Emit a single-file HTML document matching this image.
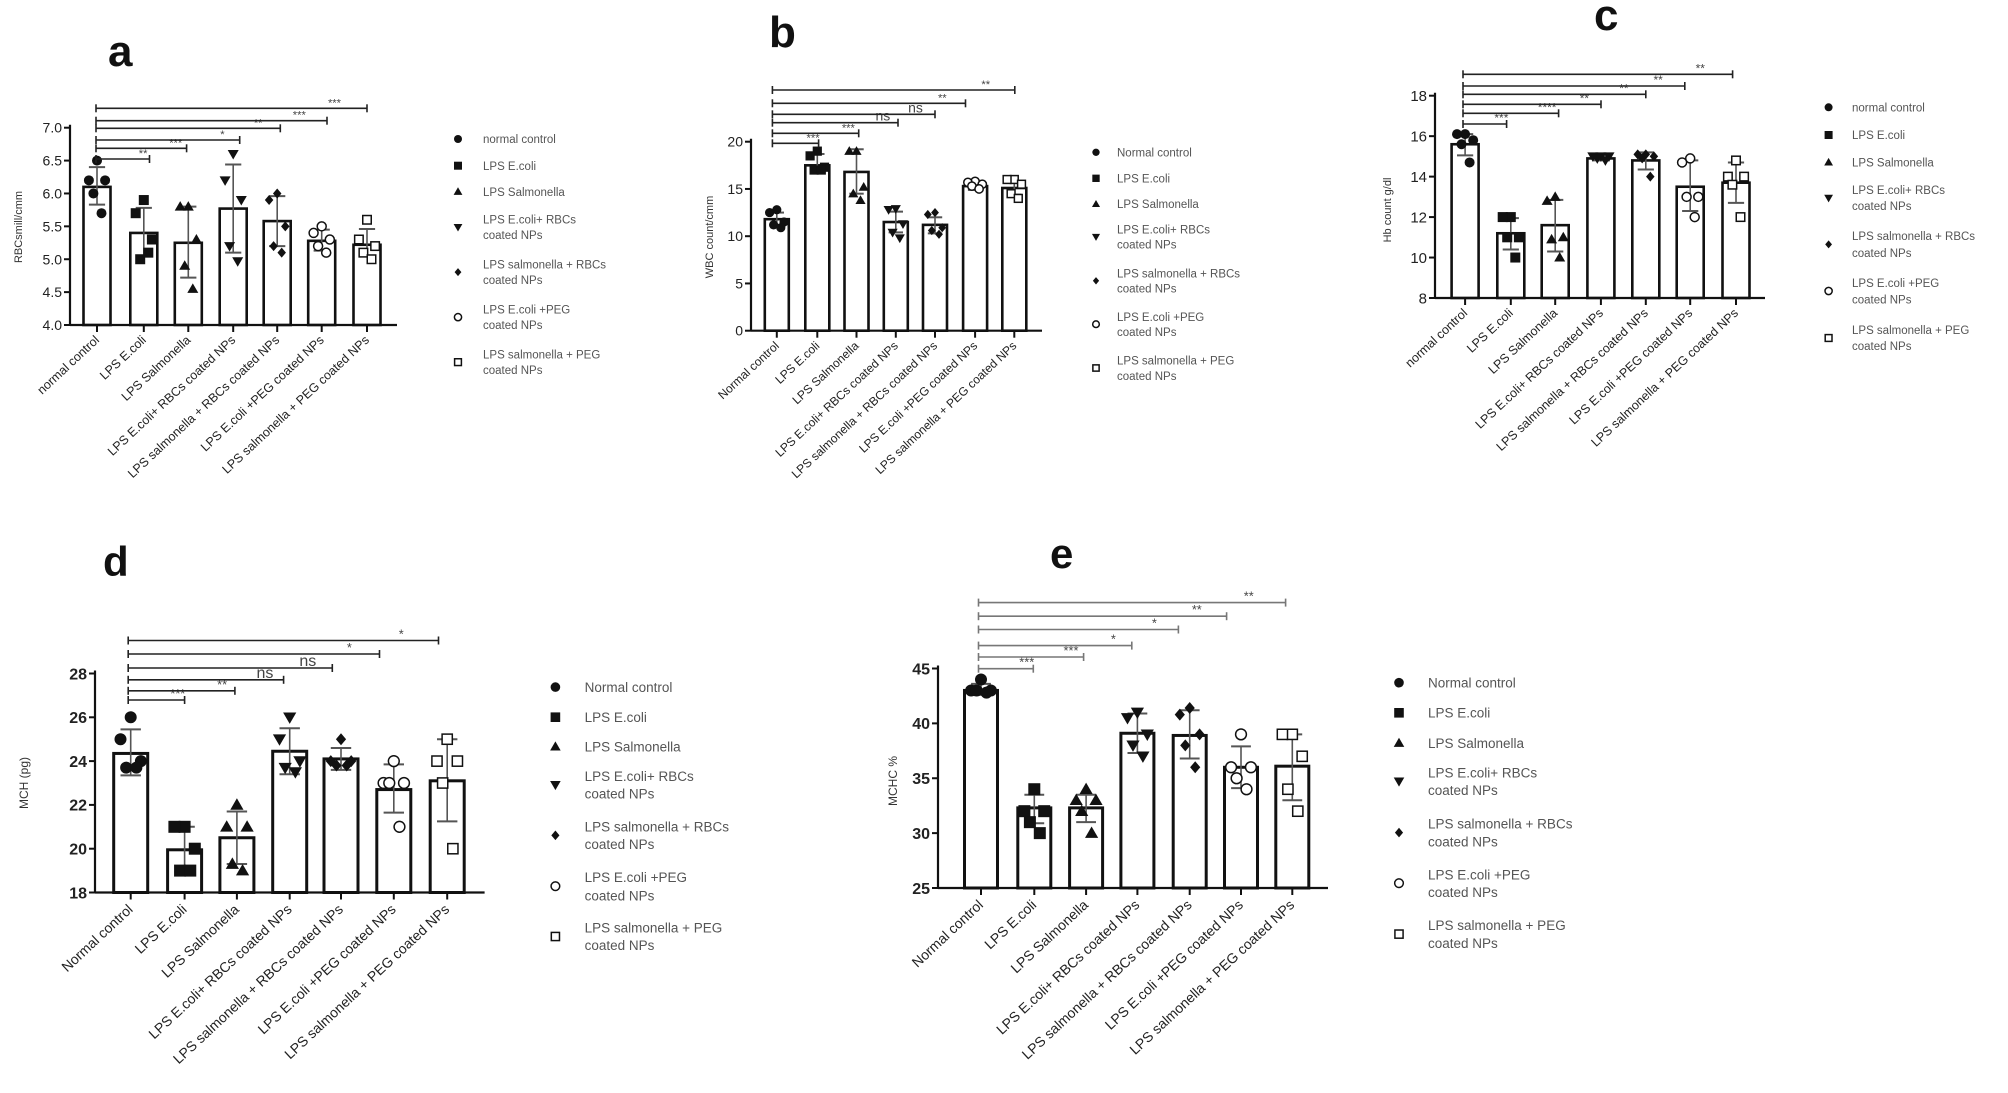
<!DOCTYPE html>
<html><head><meta charset="utf-8">
<style>
html,body{margin:0;padding:0;background:#fff;}
svg{display:block;font-family:"Liberation Sans",sans-serif;}
</style></head>
<body>
<svg id="s" width="2008" height="1093" viewBox="0 0 2008 1093" xmlns="http://www.w3.org/2000/svg">
<rect width="2008" height="1093" fill="#fff"/>
</svg>
<script>
const S=document.getElementById('s');const NS='http://www.w3.org/2000/svg';
function el(t,a,txt){const e=document.createElementNS(NS,t);for(const k in a)e.setAttribute(k,a[k]);if(txt!==undefined)e.textContent=txt;S.appendChild(e);return e;}
function line(x1,y1,x2,y2,w,c){el('line',{x1,y1,x2,y2,stroke:c||'#111','stroke-width':w||2});}
function marker(type,x,y,r){
  const f='#111';
  if(type==0) el('circle',{cx:x,cy:y,r:r,fill:f});
  else if(type==1) el('rect',{x:x-r,y:y-r,width:2*r,height:2*r,fill:f});
  else if(type==2) el('polygon',{points:`${x},${y-r*1.1} ${x-r*1.1},${y+r*0.8} ${x+r*1.1},${y+r*0.8}`,fill:f});
  else if(type==3) el('polygon',{points:`${x},${y+r*1.1} ${x-r*1.1},${y-r*0.8} ${x+r*1.1},${y-r*0.8}`,fill:f});
  else if(type==4) el('polygon',{points:`${x},${y-r} ${x-r*0.85},${y} ${x},${y+r} ${x+r*0.85},${y}`,fill:f});
  else if(type==5) el('circle',{cx:x,cy:y,r:r*0.9,fill:'#fff',stroke:f,'stroke-width':1.5});
  else el('rect',{x:x-r*0.85,y:y-r*0.85,width:1.7*r,height:1.7*r,fill:'#fff',stroke:f,'stroke-width':1.5});
}
const LEG=["LPS E.coli","LPS Salmonella",["LPS E.coli+ RBCs","coated NPs"],["LPS salmonella + RBCs","coated NPs"],["LPS E.coli +PEG","coated NPs"],["LPS salmonella + PEG","coated NPs"]];
const XL=["LPS E.coli","LPS Salmonella","LPS E.coli+ RBCs coated NPs","LPS salmonella + RBCs coated NPs","LPS E.coli +PEG coated NPs","LPS salmonella + PEG coated NPs"];
const OFF=[0,-9,9,-4,5];
function panel(p){
  const yv=v=>p.yTop+(p.vTop-v)/(p.vTop-p.vBot)*(p.yBot-p.yTop);
  // title
  el('text',{x:p.title[0],y:p.title[1],'font-size':p.tfs,'font-weight':'bold',fill:'#111'},p.name);
  // y label
  el('text',{transform:`translate(${p.ylab[0]},${p.ylab[1]}) rotate(-90)`,'text-anchor':'middle','font-size':p.ylfs,fill:'#333'},p.ylabel);
  // ticks
  p.ticks.forEach(v=>{const y=yv(v);line(p.ax-6,y,p.ax,y,2);
    el('text',{x:p.ax-8,y:y+p.tkfs*0.36,'text-anchor':'end','font-size':p.tkfs,'font-weight':p.tkw,fill:'#222'},p.tfmt?v.toFixed(1):String(v));});
  // bars
  p.bars.forEach((cx,i)=>{
    const top=yv(p.m[i]);
    el('rect',{x:cx-p.bw/2,y:top,width:p.bw,height:p.yBot-top,fill:'#fff',stroke:'#111','stroke-width':p.lw});
  });
  p.bars.forEach((cx,i)=>{
    const hi=yv(p.hi[i]),lo=yv(p.lo[i]);
    line(cx,hi,cx,lo,1.6,'#555');line(cx-p.bw*0.3,hi,cx+p.bw*0.3,hi,2,'#555');line(cx-p.bw*0.3,lo,cx+p.bw*0.3,lo,2,'#555');
    p.pts[i].forEach((v,j)=>marker(i,cx+OFF[j]*p.bw/30,yv(v),p.mr));
    line(cx,p.yBot,cx,p.yBot+7,2);
  });
  // axes
  line(p.ax,p.yTop-3,p.ax,p.yBot,2.2);line(p.ax,p.yBot,p.xEnd,p.yBot,2.2);
  // sig
  p.sig.forEach(s=>{const [y,xe,lab]=s;
    line(p.sx,y,xe,y,1.6,p.sc);line(p.sx,y-4,p.sx,y+4,1.6,p.sc);line(xe,y-4,xe,y+4,1.6,p.sc);
    el('text',{x:xe-(xe-p.sx)*0.12,y:y-2,'text-anchor':'middle','font-size':lab=='ns'?p.tkfs:p.tkfs*0.8,fill:'#444'},lab);
  });
  // x labels
  const xl=[p.first].concat(XL);
  p.bars.forEach((cx,i)=>{el('text',{transform:`translate(${cx+3},${p.yBot+p.xlo}) rotate(-43)`,'text-anchor':'end','font-size':p.xfs,fill:'#222'},xl[i]);});
  // legend
  const lg=[p.first].concat(LEG);
  lg.forEach((t,i)=>{
    const r=p.rows[i];
    if(Array.isArray(t)){const ym=(r[0]+r[1])/2;marker(i,p.lmx,ym,p.mr*0.8);
      el('text',{x:p.ltx,y:r[0]+p.lfs*0.36,'font-size':p.lfs,fill:'#555'},t[0]);
      el('text',{x:p.ltx,y:r[1]+p.lfs*0.36,'font-size':p.lfs,fill:'#555'},t[1]);}
    else{marker(i,p.lmx,r,p.mr*0.8);el('text',{x:p.ltx,y:r+p.lfs*0.36,'font-size':p.lfs,fill:'#555'},t);}
  });
}
// panel a
panel({name:'a',title:[108,66],tfs:44,ylabel:'RBCsmill/cmm',ylab:[22,227],ylfs:11,
 ax:70,yTop:127.7,yBot:325,vTop:7,vBot:4,xEnd:397,ticks:[7,6.5,6,5.5,5,4.5,4],tfmt:1,tkfs:14,tkw:'normal',
 bars:[97,143.8,188.3,233.2,277.2,321.7,367],bw:27,lw:2.6,mr:5,
 m:[6.1,5.4,5.25,5.77,5.58,5.28,5.22],hi:[6.4,5.78,5.8,6.44,5.96,5.45,5.46],lo:[5.83,5.05,4.72,5.1,5.2,5.13,5.05],
 pts:[[6.5,6.2,6.2,6.0,5.7],[5.9,5.7,5.3,5.0,5.1],[5.8,5.8,5.3,4.9,4.55],[6.6,6.2,5.9,5.2,4.97],[6.0,5.9,5.5,5.2,5.1],[5.5,5.4,5.3,5.2,5.1],[5.6,5.3,5.2,5.1,5.0]],
 sx:96,sc:'#222',sig:[[159,149.5,'**'],[148.3,186.6,'***'],[140,239.7,'*'],[128.3,280.3,'**'],[120.7,327,'***'],[108.3,367,'***']],
 first:'normal control',xlo:16,xfs:12.5,lmx:458,ltx:483,lfs:11.5,rows:[139,165.7,191.7,[219.3,235],[264.3,280],[309.3,325],[354.3,370]]});
// panel b
panel({name:'b',title:[769,47],tfs:44,ylabel:'WBC count/cmm',ylab:[713,237],ylfs:11,
 ax:751,yTop:141.7,yBot:330.7,vTop:20,vBot:0,xEnd:1042,ticks:[20,15,10,5,0],tkfs:14,tkw:'normal',
 bars:[776.8,817.3,856.5,895.8,935,975.1,1014.3],bw:24,lw:2.6,mr:4.6,
 m:[11.8,17.5,16.8,11.5,11.2,15.3,15.1],hi:[12.5,18.7,19.2,12.6,12,15.8,15.8],lo:[11.2,16.8,14.5,10.4,10.3,14.9,14.4],
 pts:[[12.8,12.5,11.5,11.2,10.9],[19,18.5,17.3,17,17],[19,19,15.2,14.5,13.8],[12.9,12.8,11.3,10.4,9.8],[12.5,12.3,10.9,10.6,10.2],[15.8,15.7,15.5,15.3,15.0],[16,16,15.5,14.5,14]],
 sx:772.4,sc:'#222',sig:[[143.3,818.6,'***'],[133.3,858.7,'***'],[122.7,898,'ns'],[114.3,935,'ns'],[103.3,965.5,'**'],[90,1014.8,'**']],
 first:'Normal control',xlo:16,xfs:12,lmx:1096,ltx:1117,lfs:11.5,rows:[152.3,178.3,204,[229.3,244.3],[273.3,288.3],[316.7,331.7],[360.3,375.7]]});
// panel c
panel({name:'c',title:[1594,30],tfs:44,ylabel:'Hb count g/dl',ylab:[1391,210],ylfs:11,
 ax:1435,yTop:95.7,yBot:298,vTop:18,vBot:8,xEnd:1765,ticks:[18,16,14,12,10,8],tkfs:15,tkw:'normal',
 bars:[1465.1,1510.8,1555.2,1600.9,1645.8,1690.2,1736],bw:27,lw:2.6,mr:5,
 m:[15.6,11.2,11.6,14.9,14.8,13.5,13.7],hi:[16.1,11.95,12.85,15.05,15.2,14.8,14.7],lo:[15.05,10.4,10.3,14.8,14.35,12.3,12.7],
 pts:[[16.1,16.1,15.8,15.6,14.7],[12,12,11,11,10],[13,12.8,11,10.9,10],[15,15,15,14.9,14.8],[15.1,15.1,15,14.9,14],[14.9,14.7,13,13,12],[14.8,14,14,13.6,12]],
 sx:1463,sc:'#222',sig:[[124,1506.6,'***'],[113.3,1558.6,'****'],[104.3,1601,'**'],[94.3,1645.8,'**'],[86,1684.8,'**'],[74.3,1732.6,'**']],
 first:'normal control',xlo:16,xfs:12.5,lmx:1828.6,ltx:1852,lfs:11.5,rows:[107.3,135,162.3,[190,206],[236,252.7],[282.7,299.3],[330,346]]});
// panel d
panel({name:'d',title:[103,576],tfs:42,ylabel:'MCH (pg)',ylab:[28,783],ylfs:12,
 ax:95,yTop:673.5,yBot:892.5,vTop:28,vBot:18,xEnd:484.6,ticks:[28,26,24,22,20,18],tkfs:16,tkw:'bold',
 bars:[130.7,184.6,236.9,289.7,341,393.8,447.2],bw:34,lw:3,mr:6,
 m:[24.35,19.95,20.5,24.45,24.1,22.7,23.1],hi:[25.45,21,21.7,25.5,24.6,23.85,25],lo:[23.35,18.95,19.3,23.4,23.6,21.65,21.25],
 pts:[[26,25,24,23.7,23.7],[21,21,20,19,19],[22,21,21,19.3,19],[26,25,24,23.7,23.5],[25,24,24,23.8,23.8],[24,23,23,23,21],[25,24,24,23,20]],
 sx:128.2,sc:'#222',sig:[[700,184.6,'***'],[690.8,234.9,'**'],[679.8,283.6,'ns'],[668,332.3,'ns'],[654,379.5,'*'],[640.5,438.5,'*']],
 first:'Normal control',xlo:18,xfs:14,lmx:555.4,ltx:584.6,lfs:13.5,rows:[687.1,717.2,746.6,[776,793.6],[826.7,844],[877,895.4],[927.7,945.3]]});
// panel e
panel({name:'e',title:[1050,568],tfs:42,ylabel:'MCHC %',ylab:[897,781],ylfs:12,
 ax:938,yTop:668.5,yBot:888,vTop:45,vBot:25,xEnd:1328,ticks:[45,40,35,30,25],tkfs:16,tkw:'bold',
 bars:[981,1034.3,1086.1,1137.4,1189.7,1241,1292.3],bw:33,lw:3,mr:6,
 m:[43,32.3,32.3,39.1,38.9,36,36.1],hi:[43.6,33.5,33.5,40.9,41.2,37.9,39],lo:[42.6,30.9,31,37.3,36.8,34.1,33],
 pts:[[44,43,43,43,42.8],[34,32,32,31,30],[34,33,33,32,30],[41,40.5,39,38,37],[41.4,40.8,39,38,36],[39,36,36,35,34],[39,39,37,34,32]],
 sx:978.5,sc:'#777',sig:[[668.7,1033.3,'***'],[657,1083.6,'***'],[645.6,1131.8,'*'],[629.5,1178.4,'*'],[616.2,1226.6,'**'],[602.6,1285.6,'**']],
 first:'Normal control',xlo:18,xfs:14,lmx:1399,ltx:1428,lfs:13.5,rows:[682.7,712.8,743,[772.7,790],[823.8,841.4],[874.4,892],[925.1,943.1]]});
</script>
</body></html>
